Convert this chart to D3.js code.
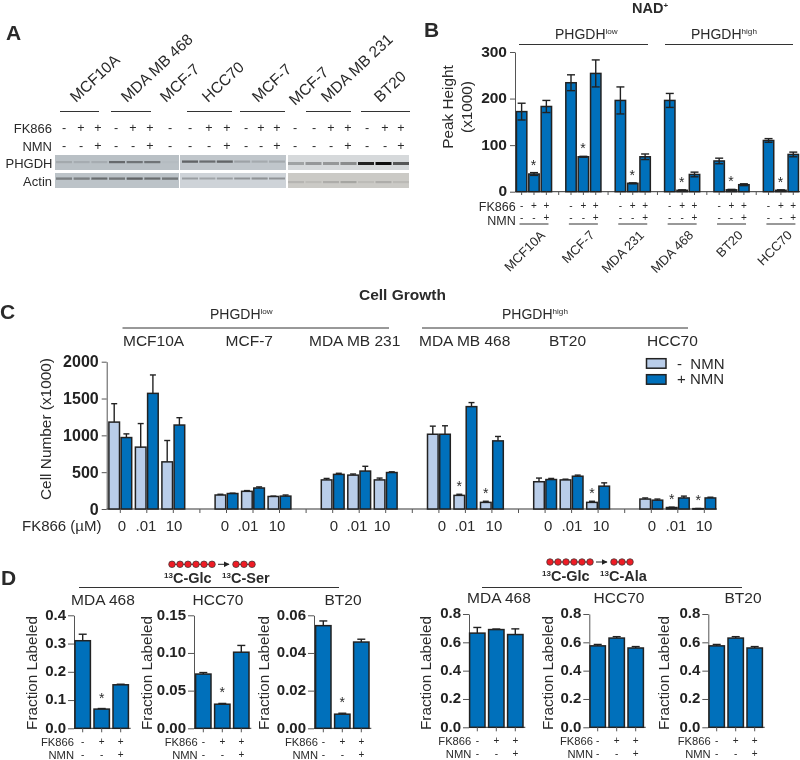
<!DOCTYPE html>
<html lang="en">

<head>
	<meta charset="UTF-8">
	<script src="https://d3js.org/d3.v7.min.js"></script>
	<title>NAD+ and cell growth</title>
	<style>
		body {
			margin: 0;
			background: white;
		}

		svg {
			opacity: 0.999;
		}

		text {
			font-family: "Liberation Sans", Arial, sans-serif;
			fill: #2a2a2a;
		}

		.tick text {
			font-weight: bold;
			fill: #222;
		}

		.domain,
		.tick line {
			stroke: #555;
			stroke-width: 1;
		}
	</style>
</head>

<body>
	<svg id="fig" width="800" height="760"></svg>

	<script>
		const BLUE = "#0070bb"
		const LIGHT = "#b9cde9"
		const DARK = "#222"

		// ---- panel A: blot
		const blotLabels = ["MCF10A", "MDA MB 468", "MCF-7", "HCC70", "MCF-7", "MCF-7", "MDA MB 231", "BT20"]
		const blotFK = ["-", "+", "+", "-", "+", "+", "-", "-", "+", "+", "-", "+", "+", "-", "-", "+", "+", "-", "+", "+"]
		const blotNMN = ["-", "-", "+", "-", "-", "+", "-", "-", "-", "+", "-", "-", "+", "-", "-", "-", "+", "-", "-", "+"]
		const phgdhSeg1 = [0.12, 0.1, 0.1, 0.5, 0.45, 0.45, 0.02]
		const phgdhSeg2 = [0.55, 0.5, 0.55, 0.18, 0.14, 0.14]
		const phgdhSeg3 = [0.25, 0.3, 0.35, 0.4, 0.9, 1, 0.65]
		const actinSeg1 = [0.4, 0.4, 0.5, 0.45, 0.55, 0.5, 0.45]
		const actinSeg2 = [0.25, 0.22, 0.25, 0.3, 0.35, 0.3]
		const actinSeg3 = [0.1, 0.07, 0.14, 0.18, 0.07, 0.14, 0.08]

		// ---- panel B: NAD+
		const nadGroups = ["MCF10A", "MCF-7", "MDA 231", "MDA 468", "BT20", "HCC70"]
		const nadConds = ["ctrl", "fk", "fknmn"]
		const nadVals = [[172, 38, 183], [234, 75, 254], [196, 18, 75], [196, 3, 37], [66, 4, 15], [110, 3, 80]]
		const nadErr = [[18, 3, 13], [17, 1, 29], [29, 1, 6], [15, 1, 5], [6, 1, 2], [4, 1, 5]]
		const nadFK = ["-", "+", "+"]
		const nadNMN = ["-", "-", "+"]
		const nadTicks = [0, 100, 200, 300]

		// ---- panel C: cell growth
		const growthGroups = ["MCF10A", "MCF-7", "MDA MB 231", "MDA MB 468", "BT20", "HCC70"]
		const doses = ["0", ".01", "10"]
		const growthMinus = [[1180, 840, 640], [190, 240, 170], [395, 460, 395], [1015, 185, 90], [370, 395, 90], [135, 20, 5]]
		const growthMinusErr = [[250, 320, 290], [10, 10, 5], [20, 15, 25], [110, 15, 15], [50, 10, 15], [15, 5, 2]]
		const growthPlus = [[970, 1570, 1140], [210, 285, 175], [470, 515, 495], [1015, 1390, 925], [400, 445, 310], [120, 150, 150]]
		const growthPlusErr = [[50, 250, 100], [5, 15, 15], [15, 65, 10], [115, 55, 60], [15, 15, 45], [15, 25, 10]]
		const growthStars = [[3, 1], [3, 2], [4, 2], [5, 1], [5, 2]]
		const growthTicks = [0, 500, 1000, 1500, 2000]

		// ---- panel D: labeling
		const serMDA = [0.31, 0.068, 0.154]
		const serMDAErr = [0.023, 0.002, 0.002]
		const serHCC = [0.072, 0.032, 0.101]
		const serHCCErr = [0.002, 0.001, 0.009]
		const serBT = [0.0545, 0.0075, 0.0458]
		const serBTErr = [0.0025, 0.0005, 0.0015]
		const alaMDA = [0.665, 0.69, 0.655]
		const alaMDAErr = [0.04, 0.004, 0.04]
		const alaHCC = [0.575, 0.63, 0.56]
		const alaHCCErr = [0.01, 0.01, 0.01]
		const alaBT = [0.575, 0.63, 0.56]
		const alaBTErr = [0.01, 0.01, 0.01]

		const svg = d3.select("#fig")

		function label(x, y, str, size, opts) {
			opts = opts || {}
			const t = svg.append("text")
				.attr("x", x).attr("y", y)
				.attr("font-size", size)
				.attr("font-weight", opts.bold ? "bold" : "normal")
				.attr("text-anchor", opts.anchor || "start")
				.text(str)
			if (opts.rotate !== undefined) t.attr("transform", `rotate(${opts.rotate} ${x} ${y})`)
			return t
		}

		function hline(x1, x2, y, width) {
			svg.append("line").attr("x1", x1).attr("x2", x2).attr("y1", y).attr("y2", y)
				.attr("stroke", "#333").attr("stroke-width", width || 1)
		}

		function supLabel(x, y, str, sup, size) {
			const t = label(x, y, str, size)
			t.append("tspan").attr("font-size", size * 0.58).attr("dy", -size * 0.36).text(sup)
		}

		function star(x, y) {
			label(x, y, "*", 14, { anchor: "middle" })
		}

		/*---------------- panel letters ----------------*/
		label(6, 40, "A", 21, { bold: true })
		label(424, 37, "B", 21, { bold: true })
		label(0, 319, "C", 21, { bold: true })
		label(1, 585, "D", 21, { bold: true })

		/*---------------- panel A ----------------*/
		svg.append("defs").append("filter").attr("id", "soft")
			.attr("x", "-30%").attr("width", "160%").attr("y", "-150%").attr("height", "400%")
			.append("feGaussianBlur").attr("stdDeviation", 0.7)

		function blotStrip(x0, x1, y, h, bg, first, last, vals, bandY, bandH) {
			svg.append("rect").attr("x", x0).attr("y", y).attr("width", x1 - x0).attr("height", h).attr("fill", bg)
			const lane = d3.scalePoint().domain(d3.range(vals.length)).range([first, last])
			svg.append("g").attr("filter", "url(#soft)").selectAll("rect")
				.data(vals).enter().append("rect")
				.attr("x", (d, i) => lane(i) - 8)
				.attr("width", 16)
				.attr("y", bandY)
				.attr("height", bandH)
				.attr("fill", "#111")
				.attr("opacity", d => d)
		}
		blotStrip(55, 179, 155, 15, "#b9c0c5", 64, 170, phgdhSeg1, 161, 2.2)
		blotStrip(180, 286, 155, 15, "#c0c6cb", 190, 277, phgdhSeg2, 160.5, 2.2)
		blotStrip(288, 409, 155, 15, "#d6d9db", 296, 401, phgdhSeg3, 162, 3)
		blotStrip(55, 179, 173, 15, "#bcc3c8", 64, 170, actinSeg1, 177.5, 2.2)
		blotStrip(180, 286, 173, 15, "#ced3d8", 190, 277, actinSeg2, 177.5, 2)
		blotStrip(288, 409, 173, 15, "#cbcac6", 296, 401, actinSeg3, 181, 2.2)

		// rotated lane headers, anchored at their lower left
		const blotHeaderX = [76, 127, 166, 208, 258, 295, 327, 380]
		const blotHeaderY = [103, 103, 103, 103, 103, 106, 103, 103]
		blotLabels.forEach((d, i) => {
			label(blotHeaderX[i], blotHeaderY[i], d, 15.5, { rotate: -43 })
		})
		const blotLines = [[60, 99], [111, 151], [187, 232], [240, 285], [306, 351], [361, 410]]
		blotLines.forEach(d => hline(d[0], d[1], 111.5, 1.2))
		label(52, 133, "FK866", 13, { anchor: "end" })
		label(52, 151, "NMN", 13, { anchor: "end" })
		label(52.5, 168, "PHGDH", 13, { anchor: "end" })
		label(52, 186, "Actin", 13, { anchor: "end" })
		const blotX = [64, 81, 98, 116, 133, 150, 170, 190, 209, 227, 246, 261, 277, 295, 314, 331, 348, 367, 385, 401]
		blotX.forEach((x, i) => {
			label(x, 132, blotFK[i], 12.5, { anchor: "middle" })
			label(x, 150, blotNMN[i], 12.5, { anchor: "middle" })
		})

		/*---------------- bars helper ----------------*/
		function drawBar(x, w, y0, yv, yerr, fill, both, capW) {
			const g = svg.append("g")
			g.append("rect")
				.attr("x", x - w / 2).attr("width", w)
				.attr("y", yv).attr("height", Math.max(y0 - yv, 0.5))
				.attr("fill", fill)
				.attr("stroke", DARK).attr("stroke-width", 1.5)
			const lower = both ? yv + (yv - yerr) : yv
			g.append("line").attr("x1", x).attr("x2", x).attr("y1", yerr).attr("y2", Math.min(lower, y0))
				.attr("stroke", DARK).attr("stroke-width", 1.4)
			g.append("line").attr("x1", x - capW / 2).attr("x2", x + capW / 2).attr("y1", yerr).attr("y2", yerr)
				.attr("stroke", DARK).attr("stroke-width", 1.4)
			if (both) {
				g.append("line").attr("x1", x - capW / 2).attr("x2", x + capW / 2)
					.attr("y1", Math.min(lower, y0)).attr("y2", Math.min(lower, y0))
					.attr("stroke", DARK).attr("stroke-width", 1.4)
			}
		}

		/*---------------- panel B ----------------*/
		const yB = d3.scaleLinear().domain([0, 300]).range([191.7, 52])
		const xB = d3.scaleBand().domain(nadGroups).range([509.3, 805.6])
		const xBin = d3.scaleBand().domain(nadConds).range([-18.55, 18.55])

		svg.append("g").attr("transform", "translate(515,0)")
			.call(d3.axisLeft(yB).tickValues(nadTicks).tickSize(5).tickSizeOuter(0).tickPadding(3))
			.call(g => g.selectAll("text").attr("font-size", 15.5).attr("dy", "0.26em"))
		hline(515, 800, 191.7)

		nadGroups.forEach((grp, gi) => {
			const cx = xB(grp) + xB.bandwidth() / 2
			nadConds.forEach((c, ci) => {
				const x = cx + xBin(c) + xBin.bandwidth() / 2
				const v = nadVals[gi][ci]
				drawBar(x, 10.4, yB(0), yB(v), yB(v + nadErr[gi][ci]), BLUE, true, 8)
				svg.append("line").attr("x1", x).attr("x2", x).attr("y1", 191.7).attr("y2", 195)
					.attr("stroke", "#555")
				label(x, 209, nadFK[ci], 10, { anchor: "middle" })
				label(x, 221, nadNMN[ci], 10, { anchor: "middle" })
				if (ci === 1) star(x - 0.5, yB(v + nadErr[gi][ci]) - 3)
			})
			hline(cx - 14.5, cx + 14.5, 224, 1)
			if (gi < 5) {
				svg.append("line").attr("x1", cx + 24.7).attr("x2", cx + 24.7).attr("y1", 191.7).attr("y2", 195)
					.attr("stroke", "#555")
			}
			label(cx + 12, 236, grp, 13, { anchor: "end", rotate: -45 })
		})
		label(515.7, 211, "FK866", 12.5, { anchor: "end" })
		label(515.7, 225, "NMN", 12.5, { anchor: "end" })
		label(650, 13, "NAD", 14.5, { bold: true, anchor: "middle" })
			.append("tspan").attr("font-size", 8).attr("dy", -5).text("+")
		supLabel(555, 39, "PHGDH", "low", 14)
		supLabel(691, 39, "PHGDH", "high", 14)
		hline(519, 648, 44.5)
		hline(665, 793, 44.5)
		label(453, 107, "Peak Height", 15.3, { anchor: "middle", rotate: -90 })
		label(472, 107, "(x1000)", 15.3, { anchor: "middle", rotate: -90 })

		/*---------------- panel C ----------------*/
		const yC = d3.scaleLinear().domain([0, 2000]).range([509, 361.7])
		const xC = d3.scaleBand().domain(growthGroups).range([93.7, 730.9])
		const xDose = d3.scaleBand().domain(doses).range([-39.75, 39.75])
		const xPair = d3.scaleBand().domain(["minus", "plus"]).range([-12.2, 12.2])
		// the dose labels sit a little off their tick in the figure
		const doseLabelShift = [[1.7, -0.8, 0.7], [-1.5, -5, -2.5], [1.3, -2.2, -3.7], [3, -0.4, 2], [3, 0.4, 3], [0.7, -1.8, -0.3]]

		svg.append("g").attr("transform", "translate(106.7,0)")
			.call(d3.axisLeft(yC).tickValues(growthTicks).tickFormat(d3.format("d")).tickSize(5).tickSizeOuter(0).tickPadding(3))
			.call(g => g.selectAll("text").attr("font-size", 16))
		hline(106.7, 717, 509)

		growthGroups.forEach((grp, gi) => {
			const cx = xC(grp) + xC.bandwidth() / 2
			doses.forEach((dose, di) => {
				const dx = cx + xDose(dose) + xDose.bandwidth() / 2
				const minusV = growthMinus[gi][di]
				const plusV = growthPlus[gi][di]
				const x1 = dx + xPair("minus") + xPair.bandwidth() / 2
				const x2 = dx + xPair("plus") + xPair.bandwidth() / 2
				drawBar(x1, 10.6, yC(0), yC(minusV), yC(minusV + growthMinusErr[gi][di]), LIGHT, false, 6)
				drawBar(x2, 10.6, yC(0), yC(plusV), yC(plusV + growthPlusErr[gi][di]), BLUE, false, 6)
				svg.append("line").attr("x1", dx).attr("x2", dx).attr("y1", 509).attr("y2", 513).attr("stroke", "#555")
				label(dx + doseLabelShift[gi][di], 530.7, dose, 15, { anchor: "middle" })
			})
			if (gi < 5) {
				const sx = cx + 53.1
				svg.append("line").attr("x1", sx).attr("x2", sx).attr("y1", 509).attr("y2", 513).attr("stroke", "#555")
			}
		})
		growthStars.forEach(s => {
			const grp = growthGroups[s[0]]
			const dose = doses[s[1]]
			const x = xC(grp) + xC.bandwidth() / 2 + xDose(dose) + xDose.bandwidth() / 2 + xPair("minus") + xPair.bandwidth() / 2
			star(x, yC(growthMinus[s[0]][s[1]] + growthMinusErr[s[0]][s[1]]) - 3)
		})
		const growthNameX = [123, 225.6, 309, 419, 549, 647]
		growthGroups.forEach((d, i) => label(growthNameX[i], 345.7, d, 15.5))
		hline(122.5, 389, 328)
		hline(422, 688, 328)
		supLabel(210, 318.7, "PHGDH", "low", 14)
		supLabel(502, 318.7, "PHGDH", "high", 14)
		label(359, 300, "Cell Growth", 15.5, { bold: true })
		label(51, 429, "Cell Number (x1000)", 15.4, { anchor: "middle", rotate: -90 })
		label(22, 530.7, "FK866 (µM)", 15)

		const legendRows = ["-  NMN", "+ NMN"]
		const legendFill = [LIGHT, BLUE]
		legendRows.forEach((d, i) => {
			svg.append("rect").attr("x", 646.5).attr("y", 358.7 + i * 16).attr("width", 19.5).attr("height", 9.5)
				.attr("fill", legendFill[i]).attr("stroke", DARK).attr("stroke-width", 1.5)
			label(677, 368.5 + i * 15.7, d, 15).style("white-space", "pre")
		})

		/*---------------- panel D ----------------*/
		function fractionPanel(opts) {
			const y = d3.scaleLinear().domain([0, opts.max]).range([opts.y0, opts.y1])
			const x = d3.scaleBand().domain(nadConds).range([opts.first - 9.5, opts.first + 47.5])
			svg.append("g").attr("transform", `translate(${opts.axisX},0)`)
				.call(d3.axisLeft(y).tickValues(opts.ticks).tickFormat(d3.format(opts.fmt)).tickSize(6).tickSizeOuter(0).tickPadding(2))
				.call(g => g.selectAll("text").attr("font-size", 15).attr("dy", "0.26em"))
			hline(opts.axisX, opts.first + 48, opts.y0)
			nadConds.forEach((c, i) => {
				const cx = x(c) + x.bandwidth() / 2
				const v = opts.vals[i]
				drawBar(cx, 15.4, y(0), y(v), y(v + opts.errs[i]), BLUE, false, 8)
				svg.append("line").attr("x1", cx).attr("x2", cx).attr("y1", opts.y0).attr("y2", opts.y0 + 4).attr("stroke", "#555")
				label(cx, opts.fkY - 1, nadFK[i], 10, { anchor: "middle" })
				label(cx, opts.nmnY - 1, nadNMN[i], 10, { anchor: "middle" })
				if (opts.stars && i === 1) star(cx, y(v + opts.errs[i]) - 6)
			})
			label(opts.nameX, opts.nameY, opts.name, 15.5, { anchor: "middle" })
			label(opts.labelX, 673, "Fraction Labeled", 15.3, { anchor: "middle", rotate: -90 })
			label(opts.rowX, opts.fkY, "FK866", 11.2, { anchor: "end" })
			label(opts.rowX, opts.nmnY, "NMN", 11.2, { anchor: "end" })
		}

		const serLayout = { y0: 728.3, y1: 615.3, fkY: 745.8, nmnY: 758.6, stars: true, nameY: 605 }
		const alaLayout = { y0: 727.3, y1: 614, fkY: 745, nmnY: 757.8, stars: false, nameY: 603, max: 0.8, ticks: [0, 0.2, 0.4, 0.6, 0.8], fmt: ".1f" }

		fractionPanel(Object.assign({}, serLayout, { name: "MDA 468", nameX: 103, axisX: 74, first: 82.7, labelX: 36.7, rowX: 74, max: 0.4, ticks: [0, 0.1, 0.2, 0.3, 0.4], fmt: ".1f", vals: serMDA, errs: serMDAErr }))
		fractionPanel(Object.assign({}, serLayout, { name: "HCC70", nameX: 218, axisX: 194, first: 203.3, labelX: 151.7, rowX: 197.7, max: 0.15, ticks: [0, 0.05, 0.1, 0.15], fmt: ".2f", vals: serHCC, errs: serHCCErr }))
		fractionPanel(Object.assign({}, serLayout, { name: "BT20", nameX: 343, axisX: 314, first: 323.3, labelX: 269, rowX: 318, max: 0.06, ticks: [0, 0.02, 0.04, 0.06], fmt: ".2f", vals: serBT, errs: serBTErr }))
		fractionPanel(Object.assign({}, alaLayout, { name: "MDA 468", nameX: 499, axisX: 469, first: 477.3, labelX: 431, rowX: 471.3, vals: alaMDA, errs: alaMDAErr }))
		fractionPanel(Object.assign({}, alaLayout, { name: "HCC70", nameX: 619, axisX: 589.3, first: 597.7, labelX: 552.7, rowX: 593, vals: alaHCC, errs: alaHCCErr }))
		fractionPanel(Object.assign({}, alaLayout, { name: "BT20", nameX: 743, axisX: 708.3, first: 716.7, labelX: 669.3, rowX: 710.7, vals: alaBT, errs: alaBTErr }))

		svg.select("defs").append("marker").attr("id", "arrow")
			.attr("viewBox", "0 0 10 10").attr("refX", 9).attr("refY", 5)
			.attr("markerWidth", 6).attr("markerHeight", 6).attr("orient", "auto")
			.append("path").attr("d", "M0,0L10,5L0,10z").attr("fill", "#222")

		const glcCarbons = d3.range(6)
		const productCarbons = d3.range(3)

		function tracer(x6, x3, y, textY, glcX, prodX, product) {
			const chain = (n, x0) => {
				svg.append("line").attr("x1", x0).attr("x2", x0 + (n.length - 1) * 8).attr("y1", y).attr("y2", y).attr("stroke", "#222")
				svg.append("g").selectAll("circle").data(n).enter().append("circle")
					.attr("cx", d => x0 + d * 8).attr("cy", y).attr("r", 3.3)
					.attr("fill", "#ee1c25").attr("stroke", "#333").attr("stroke-width", 0.7)
			}
			chain(glcCarbons, x6)
			chain(productCarbons, x3)
			svg.append("line").attr("x1", x6 + 46).attr("x2", x6 + 57).attr("y1", y).attr("y2", y)
				.attr("stroke", "#222").attr("marker-end", "url(#arrow)")
			const sup = (x, main) => {
				const t = label(x, textY, "", 14.5, { bold: true })
				t.append("tspan").attr("font-size", 8).attr("dy", -5).text("13")
				t.append("tspan").attr("dy", 5).text(main)
			}
			sup(glcX, "C-Glc")
			sup(prodX, product)
		}
		tracer(172, 236, 564.3, 583, 164, 222, "C-Ser")
		hline(79, 339, 587.5)
		tracer(550, 614, 562, 581, 542, 600, "C-Ala")
		hline(482, 742, 587.5)
	</script>
</body>

</html>
